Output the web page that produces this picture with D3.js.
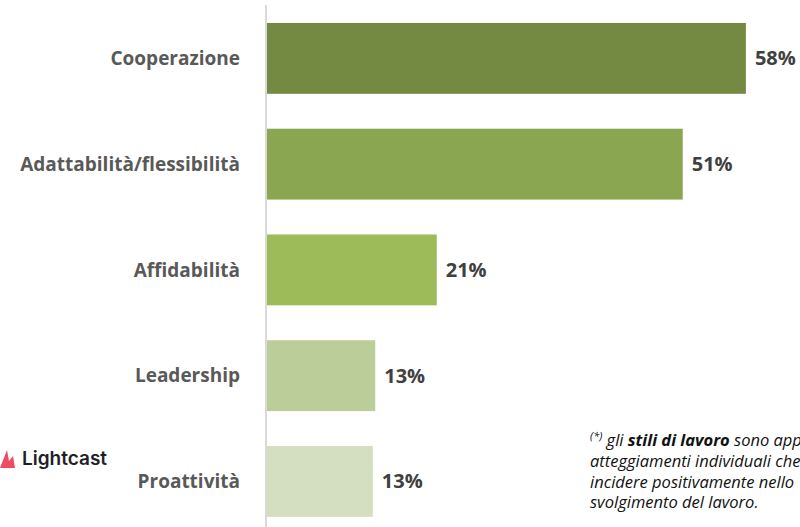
<!DOCTYPE html>
<html>
<head>
<meta charset="utf-8">
<script src="https://cdn.jsdelivr.net/npm/d3@7"></script>
<style>
  body { margin: 0; background: #fff; }
  svg { display: block; }
  text { font-family: "Open Sans", Lato, sans-serif; }
</style>
</head>
<body>
<div id="chart"></div>
<script>
// Stili di lavoro - shares
var categories = ["Cooperazione", "Adattabilità/flessibilità", "Affidabilità", "Leadership", "Proattività"];
var values = [58.4, 50.7, 20.7, 13.2, 12.9];
var colors = ["#748a42", "#8ba651", "#9dbb59", "#bbcd98", "#d3dfc0"];

var width = 800,
    height = 527;

var svg = d3.select("#chart")
    .append("svg")
    .attr("width", width)
    .attr("height", height);

var y = d3.scaleBand()
    .domain(categories)
    .range([5.5, 534.3])
    .paddingInner(0.33)
    .paddingOuter(0.165);

var x = d3.scaleLinear()
    .domain([0, 60])
    .range([267, 267 + 8.2 * 60]);

// bars
svg.selectAll(".bar")
    .data(categories)
    .join("rect")
    .attr("class", "bar")
    .attr("x", x(0))
    .attr("y", d => y(d))
    .attr("width", (d, i) => x(values[i]) - x(0))
    .attr("height", y.bandwidth())
    .attr("fill", (d, i) => colors[i]);

// axis line
svg.append("line")
    .attr("x1", 266).attr("x2", 266)
    .attr("y1", 5).attr("y2", height)
    .attr("stroke", "#d9d9d9")
    .attr("stroke-width", 2);

// category labels
svg.selectAll(".cat")
    .data(categories)
    .join("text")
    .attr("class", "cat")
    .attr("x", 240)
    .attr("y", d => y(d) + y.bandwidth() / 2)
    .attr("dy", "0.35em")
    .attr("text-anchor", "end")
    .attr("font-size", 19)
    .attr("font-weight", 700)
    .attr("fill", "#595959")
    .text(d => d);

// value labels
svg.selectAll(".val")
    .data(categories)
    .join("text")
    .attr("class", "val")
    .attr("x", (d, i) => x(values[i]) + 9)
    .attr("y", d => y(d) + y.bandwidth() / 2)
    .attr("dy", "0.35em")
    .attr("font-size", 20)
    .attr("font-weight", 700)
    .attr("fill", "#404040")
    .text((d, i) => Math.round(values[i]) + "%");

// footnote
var note = svg.append("text")
    .attr("font-size", 16.5)
    .attr("font-style", "italic")
    .attr("fill", "#111");

var l1 = note.append("tspan").attr("x", 590).attr("y", 446);
l1.append("tspan").attr("font-size", 11).attr("dy", -6).text("(*)");
l1.append("tspan").attr("dy", 6).text(" gli ");
l1.append("tspan").attr("font-weight", 700).text("stili di lavoro");
l1.append("tspan").text(" sono approcci e");
note.append("tspan").attr("x", 590).attr("y", 467).text("atteggiamenti individuali che possono");
note.append("tspan").attr("x", 590).attr("y", 488).text("incidere positivamente nello");
note.append("tspan").attr("x", 590).attr("y", 508).text("svolgimento del lavoro.");

// Lightcast logo
var logo = svg.append("g").attr("transform", "translate(0,447)");
logo.append("path")
    .attr("d", "M0,21 L7,3 L9,14 L13,9 L15,21 Z")
    .attr("fill", "#ef4b63");
logo.append("text")
    .attr("x", 22)
    .attr("y", 18)
    .attr("font-size", 19)
    .attr("font-weight", 600)
    .attr("fill", "#1e1e28")
    .style("font-family", "Inter, sans-serif")
    .text("Lightcast");
</script>
</body>
</html>
